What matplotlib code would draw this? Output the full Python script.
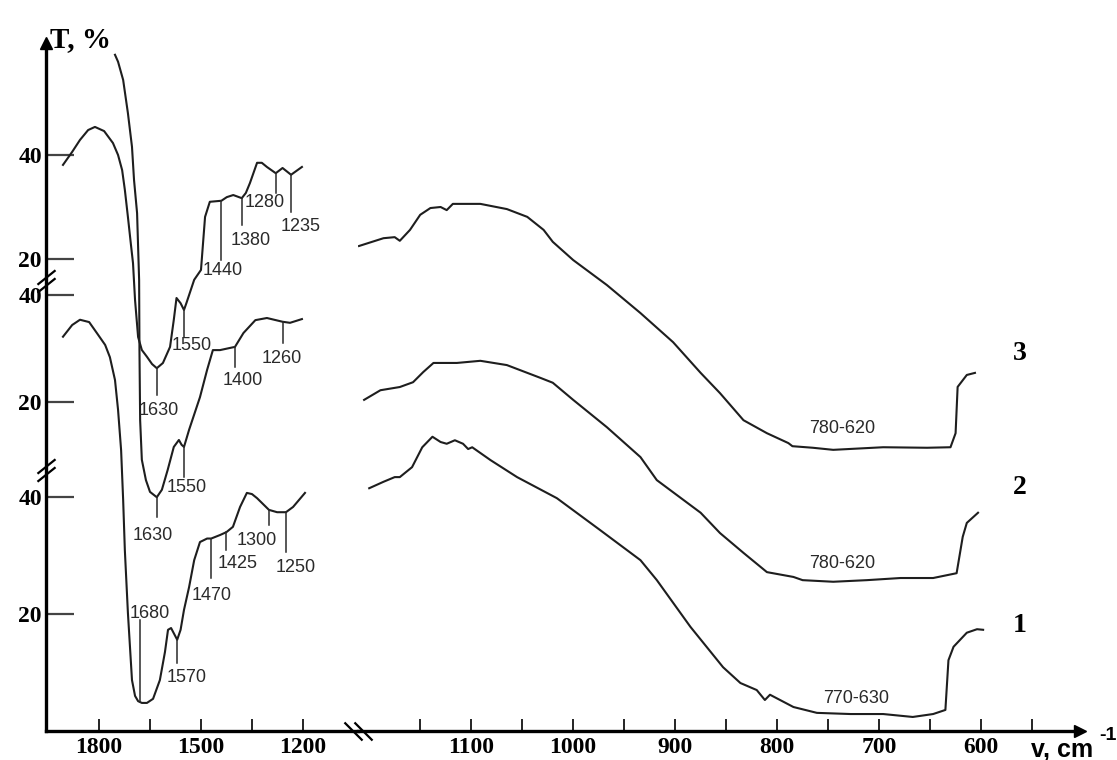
import numpy as np
import matplotlib.pyplot as plt
from matplotlib.transforms import blended_transform_factory

# --- spectra: wavenumber (cm-1) and T (%) on each curve's own scale ---
# curve 1 (bottom)
c1_left_w = [1906, 1879, 1856, 1829, 1806, 1782, 1768, 1753, 1744, 1735, 1729, 1724, 1715, 1703,
             1694, 1685, 1674, 1659, 1641, 1621, 1606, 1597, 1588, 1570, 1560, 1550, 1535, 1520,
             1503, 1482, 1470, 1444, 1425, 1406, 1385, 1365, 1350, 1335, 1300, 1276, 1250, 1229, 1194]
c1_left_t = [67.4, 69.4, 70.3, 69.9, 68.0, 66.0, 63.9, 60.0, 54.9, 48.0, 39.5, 30.9, 20.2, 8.7,
             6.0, 5.1, 4.8, 4.8, 5.5, 8.7, 13.5, 17.3, 17.6, 15.6, 17.3, 20.7, 24.6, 29.2,
             32.3, 32.9, 32.9, 33.5, 34.0, 34.9, 38.3, 40.7, 40.5, 39.8, 37.8, 37.4, 37.4, 38.3, 40.7]
c1_right_w = [1200, 1186, 1175, 1170, 1158, 1148, 1138, 1130, 1124, 1116, 1108, 1103, 1099, 1081,
              1055, 1016, 974, 934, 918, 885, 853, 836, 820, 812, 807, 784, 761, 728, 696, 667,
              647, 635, 632, 627, 614, 604, 598]
c1_right_t = [41.5, 42.6, 43.4, 43.4, 45.1, 48.5, 50.3, 49.4, 49.1, 49.7, 49.1, 48.2, 48.5, 46.3,
              43.4, 39.8, 34.4, 29.2, 25.8, 17.8, 10.9, 8.2, 7.0, 5.3, 6.2, 4.1, 3.1, 2.9, 2.9, 2.4,
              2.9, 3.6, 12.1, 14.4, 16.8, 17.4, 17.3]

# curve 2 (middle)
c2_left_w = [1753, 1744, 1729, 1715, 1703, 1697, 1688, 1685, 1682, 1681, 1679, 1674, 1662, 1650,
             1630, 1615, 1598, 1580, 1565, 1557, 1550, 1535, 1503, 1482, 1465, 1444, 1415, 1400,
             1375, 1340, 1306, 1260, 1238, 1203]
c2_left_t = [84.9, 83.6, 80.2, 74.0, 67.7, 61.5, 55.3, 49.0, 42.8, 29.7, 16.6, 9.2, 5.4, 3.2,
             2.2, 3.6, 7.3, 11.6, 12.9, 12.0, 11.6, 14.8, 20.9, 26.0, 29.7, 29.7, 30.1, 30.3,
             32.9, 35.3, 35.7, 35.0, 34.8, 35.5]
c2_right_w = [1205, 1189, 1170, 1157, 1147, 1137, 1114, 1091, 1065, 1032, 1020, 1000, 967, 934,
              918, 875, 856, 833, 810, 784, 775, 745, 712, 679, 647, 624, 618, 614, 603]
c2_right_t = [20.4, 22.2, 22.8, 23.7, 25.6, 27.3, 27.3, 27.7, 26.9, 24.5, 23.6, 20.4, 15.3, 9.7,
              5.4, -0.7, -4.5, -8.2, -11.8, -12.7, -13.3, -13.6, -13.3, -12.9, -12.9, -12.0, -5.2,
              -2.6, -0.7]

# curve 3 (top)
c3_left_w = [1906, 1879, 1856, 1832, 1812, 1785, 1759, 1744, 1732, 1724, 1715, 1706, 1700, 1694,
             1685, 1674, 1659, 1644, 1630, 1612, 1591, 1580, 1572, 1560, 1550, 1543, 1520, 1500,
             1488, 1474, 1440, 1424, 1405, 1380, 1368, 1356, 1335, 1321, 1306, 1280, 1260, 1235, 1203]
c3_left_t = [38.1, 40.6, 42.9, 44.8, 45.4, 44.6, 42.3, 40.0, 37.1, 33.3, 28.1, 22.7, 19.2, 12.1,
             5.0, 2.5, 1.2, -0.2, -1.0, 0.0, 3.1, 8.3, 12.5, 11.5, 10.2, 11.5, 16.0, 17.9,
             28.1, 31.0, 31.2, 31.9, 32.3, 31.7, 32.7, 34.6, 38.5, 38.5, 37.7, 36.5, 37.5, 36.2, 37.7]
c3_right_w = [1210, 1186, 1175, 1170, 1160, 1150, 1140, 1130, 1124, 1118, 1091, 1065, 1045, 1029,
              1020, 1000, 967, 934, 902, 875, 856, 833, 810, 789, 785, 765, 745, 696, 653, 630,
              625, 623, 614, 606]
c3_right_t = [22.5, 24.0, 24.2, 23.5, 25.6, 28.5, 29.8, 30.0, 29.4, 30.6, 30.6, 29.6, 28.1, 25.6,
              23.3, 19.8, 15.0, 9.6, 4.0, -1.9, -5.8, -11.0, -13.5, -15.4, -16.0, -16.3, -16.7,
              -16.2, -16.3, -16.2, -13.5, -4.6, -2.3, -1.9]

# peak marks: (wavenumber, label, line end T, label wavenumber, label T)
c1_marks = [(1680, '1680', 19.0, 1650, 20.0), (1570, '1570', 11.6, 1541, 9.2),
            (1470, '1470', 26.2, 1468, 23.2), (1425, '1425', 30.9, 1391, 28.7),
            (1300, '1300', 35.2, 1335, 32.6), (1250, '1250', 30.6, 1221, 28.0)]
c2_marks = [(1630, '1630', -1.5, 1641, -5.0), (1550, '1550', 6.0, 1541, 4.1),
            (1400, '1400', 26.5, 1376, 24.1), (1260, '1260', 31.0, 1262, 28.2)]
c3_marks = [(1630, '1630', -6.2, 1624, -9.2), (1550, '1550', 5.0, 1526, 3.3),
            (1440, '1440', 19.8, 1435, 17.7), (1380, '1380', 26.5, 1353, 23.5),
            (1280, '1280', 32.7, 1312, 30.8), (1235, '1235', 29.0, 1206, 26.2)]
# band range labels: (text, wavenumber, T)
c1_band = ('770-630', 723, 5.6)
c2_band = ('780-620', 736, -10.1)
c3_band = ('780-620', 736, -12.5)
curve_names = ['1', '2', '3']
name_pos = [(562, 18.1), (562, 4.1), (562, 1.9)]

# vertical placement of each curve's 20 % and 40 % marks (height above the x axis, px)
levels = [(117, 234), (329, 436), (472, 576)]

W, H = 1117, 760
fig = plt.figure(figsize=(W / 100, H / 100), dpi=100)


def fx(px):
    return px / W


def fy(py):
    return 1 - py / H


def stack(t, lev):
    t = np.asarray(t, dtype=float)
    return lev[0] + (t - 20) * (lev[1] - lev[0]) / 20


ax_l = fig.add_axes([fx(46), fy(731), fx(358) - fx(46), fy(43) - fy(731)])
ax_r = fig.add_axes([fx(358), fy(731), fx(1080) - fx(358), fy(43) - fy(731)])
ax_l.set_xlim(1956, 1038)
ax_r.set_xlim(1211, 503)
for ax in (ax_l, ax_r):
    ax.set_ylim(0, 688)
    ax.patch.set_alpha(0)
    for s in ['top', 'right']:
        ax.spines[s].set_visible(False)
    ax.spines['bottom'].set_linewidth(2.4)
ax_r.spines['left'].set_visible(False)
ax_l.spines['left'].set_linewidth(2.4)

line_kw = dict(color='#1e1e1e', lw=1.5)
mark_kw = dict(color='#2a2a2a', lw=1.1)
lab_kw = dict(family='Liberation Sans', fontsize=13, color='#2a2a2a', ha='center', va='center')

curves = [(c1_left_w, c1_left_t, c1_right_w, c1_right_t, c1_marks, c1_band),
          (c2_left_w, c2_left_t, c2_right_w, c2_right_t, c2_marks, c2_band),
          (c3_left_w, c3_left_t, c3_right_w, c3_right_t, c3_marks, c3_band)]

for i, (lw_, lt_, rw_, rt_, marks, band) in enumerate(curves):
    lev = levels[i]
    ax_l.plot(lw_, stack(lt_, lev), clip_on=False, **line_kw)
    ax_r.plot(rw_, stack(rt_, lev), **line_kw)
    for w, txt, t_end, w_lab, t_lab in marks:
        t_cur = np.interp(w, lw_[::-1], lt_[::-1])
        ax_l.plot([w, w], stack([t_cur, t_end], lev), **mark_kw)
        ax_l.text(w_lab, stack(t_lab, lev), txt, **lab_kw)
    ax_r.text(band[1], stack(band[2], lev), band[0], **lab_kw)
    ax_r.text(name_pos[i][0], stack(name_pos[i][1], lev), curve_names[i],
              family='Liberation Serif', fontweight='bold', fontsize=20, ha='center', va='center')

# x ticks
ax_l.set_xticks([1800, 1650, 1500, 1350, 1200])
ax_l.set_xticklabels(['1800', '', '1500', '', '1200'])
ax_r.set_xticks([1150, 1100, 1050, 1000, 950, 900, 850, 800, 750, 700, 650, 600, 550])
ax_r.set_xticklabels(['', '1100', '', '1000', '', '900', '', '800', '', '700', '', '600', ''])
for ax in (ax_l, ax_r):
    ax.tick_params(axis='x', direction='in', length=9, width=1.2, pad=4, labelsize=17)
    for lab in ax.get_xticklabels():
        lab.set_family('Liberation Serif')
        lab.set_fontweight('bold')
ax_r.set_yticks([])

# y ticks: 20 and 40 for every curve
yt, yl = [], []
for lev in levels:
    yt += [lev[0], lev[1]]
    yl += ['20', '40']
ax_l.set_yticks(yt)
ax_l.set_yticklabels(yl)
ax_l.tick_params(axis='y', direction='in', length=20, width=1.6, color='#444', pad=3, labelsize=17)
for lab in ax_l.get_yticklabels():
    lab.set_family('Liberation Serif')
    lab.set_fontweight('bold')

# arrows on the axes
ax_l.plot(0, 1, marker='^', ms=9, color='k', transform=ax_l.transAxes, clip_on=False)
ax_r.plot(1, 0, marker='>', ms=9, color='k', transform=ax_r.transAxes, clip_on=False)

# axis breaks
d = 5 / 722
ax_r.plot([-d, d], [0, 0], marker=[(-1, 1), (1, -1)], ms=13, mew=1.6, color='k',
          linestyle='none', transform=ax_r.transAxes, clip_on=False)
bt = blended_transform_factory(ax_l.transAxes, ax_l.transData)
for hb in [450, 261]:
    ax_l.plot([0, 0], [hb - 4, hb + 4], marker=[(-1, -0.8), (1, 0.8)], ms=13, mew=1.6,
              color='k', linestyle='none', transform=bt, clip_on=False)

fig.text(fx(50), fy(40), 'T, %', family='Liberation Serif', fontweight='bold', fontsize=21,
         va='center', ha='left')
fig.text(fx(1031), fy(750), 'v, cm', family='Liberation Sans', fontweight='bold', fontsize=18,
         va='center', ha='left')
fig.text(fx(1099), fy(735), '-1', family='Liberation Sans', fontweight='bold', fontsize=14,
         va='center', ha='left')

fig.savefig('out.png', dpi=100, facecolor='white')
